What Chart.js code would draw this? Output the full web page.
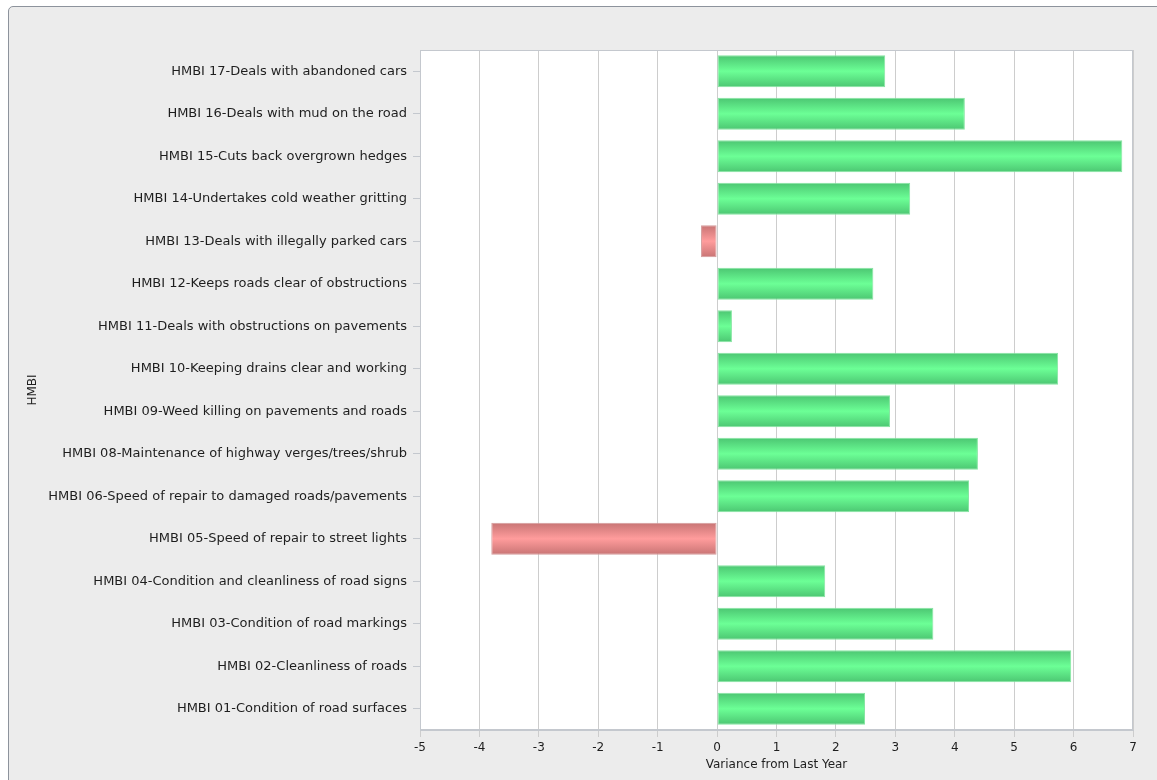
<!DOCTYPE html>
<html>
<head>
<meta charset="utf-8">
<script src="https://cdn.jsdelivr.net/npm/chart.js@4.4.0/dist/chart.umd.min.js"></script>
<style>
  html, body { margin: 0; padding: 0; background: #fff; overflow: hidden; }
  #panel {
    position: absolute; left: 8px; top: 6px; width: 1200px; height: 820px;
    background: #ececec; border: 1px solid #8d939c; border-radius: 5px;
  }
  #chart { position: absolute; left: 0; top: 0; }
</style>
</head>
<body>
<div id="panel"></div>
<canvas id="chart" width="1157" height="780"></canvas>
<script>
const categories = [
    'HMBI 17-Deals with abandoned cars',
    'HMBI 16-Deals with mud on the road',
    'HMBI 15-Cuts back overgrown hedges',
    'HMBI 14-Undertakes cold weather gritting',
    'HMBI 13-Deals with illegally parked cars',
    'HMBI 12-Keeps roads clear of obstructions',
    'HMBI 11-Deals with obstructions on pavements',
    'HMBI 10-Keeping drains clear and working',
    'HMBI 09-Weed killing on pavements and roads',
    'HMBI 08-Maintenance of highway verges/trees/shrub',
    'HMBI 06-Speed of repair to damaged roads/pavements',
    'HMBI 05-Speed of repair to street lights',
    'HMBI 04-Condition and cleanliness of road signs',
    'HMBI 03-Condition of road markings',
    'HMBI 02-Cleanliness of roads',
    'HMBI 01-Condition of road surfaces'
];
const variance = [2.83, 4.17, 6.82, 3.25, -0.27, 2.63, 0.25, 5.74, 2.91, 4.39, 4.24, -3.80, 1.82, 3.64, 5.96, 2.49];
const xTicks = [-5, -4, -3, -2, -1, 0, 1, 2, 3, 4, 5, 6, 7];

const FONT = "'DejaVu Sans', Verdana, sans-serif";

// vertical gradient per bar, darker at the edges
function barFill(ctx) {
    const chart = ctx.chart;
    const up = ctx.raw >= 0;
    const edge = up ? '#4cc672' : '#c87474';
    const mid = up ? '#6cff96' : '#ff9c9c';
    const y = chart.scales && chart.scales.y;
    if (!chart.chartArea || !y || ctx.dataIndex === undefined) return mid;
    const c = y.getPixelForValue(ctx.dataIndex);
    const h = (y.getPixelForValue(1) - y.getPixelForValue(0)) * 0.75 / 2;
    const g = chart.ctx.createLinearGradient(0, c - h, 0, c + h);
    g.addColorStop(0, edge);
    g.addColorStop(0.5, mid);
    g.addColorStop(1, edge);
    return g;
}

const frame = {
    id: 'frame',
    afterDraw(chart) {
        const { ctx, chartArea: a } = chart;
        ctx.save();
        ctx.strokeStyle = '#c4c8ce';
        ctx.lineWidth = 1;
        ctx.strokeRect(a.left + 0.5, a.top + 0.5, a.right - a.left - 1, a.bottom - a.top - 1);
        ctx.restore();
    }
};

const whiteArea = {
    id: 'whiteArea',
    beforeDraw(chart) {
        const { ctx, chartArea: a } = chart;
        ctx.save();
        ctx.fillStyle = '#ffffff';
        ctx.fillRect(a.left, a.top, a.right - a.left, a.bottom - a.top);
        ctx.restore();
    }
};

new Chart(document.getElementById('chart'), {
    type: 'bar',
    data: {
        labels: categories,
        datasets: [{
            data: variance,
            backgroundColor: barFill,
            borderColor: (ctx) => ctx.raw >= 0 ? '#86e6a2' : '#d49a9a',
            borderWidth: 1,
            borderSkipped: false,
            barPercentage: 0.75,
            categoryPercentage: 1
        }]
    },
    options: {
        indexAxis: 'y',
        responsive: false,
        animation: false,
        layout: { padding: { left: 0, top: 50, right: 24, bottom: 0 } },
        plugins: { legend: { display: false }, tooltip: { enabled: false } },
        scales: {
            x: {
                min: -5, max: 7,
                afterBuildTicks: (s) => { s.ticks = xTicks.map(v => ({ value: v })); },
                afterFit: (s) => { s.height = 50; },
                grid: { color: '#cdcdcd', tickLength: 7, tickColor: '#cdcdcd' },
                border: { color: '#c4c8ce' },
                ticks: { color: '#1e1e1e', padding: 4, font: { family: FONT, size: 12 }, maxRotation: 0 },
                title: { display: true, text: 'Variance from Last Year', color: '#1e1e1e', padding: { top: 0, bottom: 8 }, font: { family: FONT, size: 12 } }
            },
            y: {
                afterFit: (s) => { s.width = 420; },
                grid: { offset: false, drawOnChartArea: false, tickLength: 7, color: '#c4c8ce' },
                border: { color: '#c4c8ce' },
                ticks: { color: '#1e1e1e', padding: 6, autoSkip: false, font: { family: FONT, size: 13 } },
                title: { display: true, text: 'HMBI', color: '#1e1e1e', padding: { top: 26, bottom: 0 }, font: { family: FONT, size: 12 } }
            }
        }
    },
    plugins: [whiteArea, frame]
});
</script>
</body>
</html>
